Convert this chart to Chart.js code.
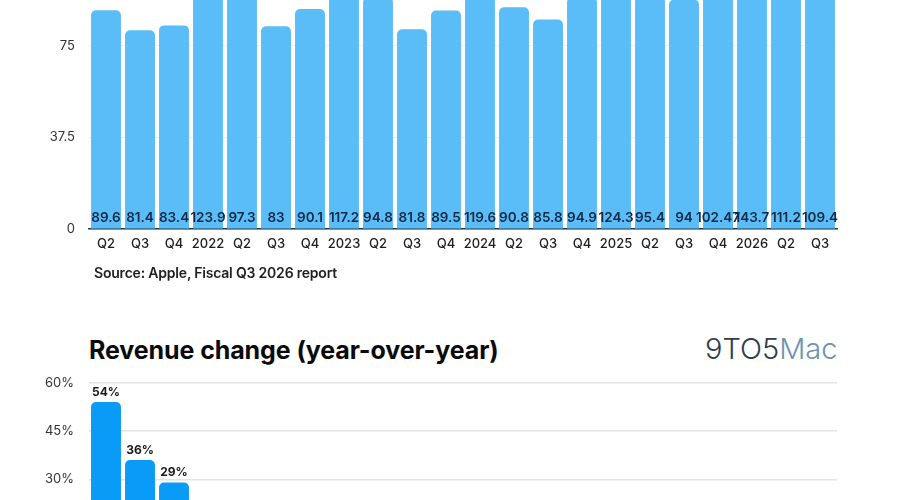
<!DOCTYPE html>
<html>
<head>
<meta charset="utf-8">
<script src="https://cdn.jsdelivr.net/npm/chart.js@4"></script>
<style>
html,body{margin:0;padding:0;width:900px;height:500px;overflow:hidden;background:#fff;font-family:Inter,"Noto Sans",sans-serif;}
#wrapTop{position:absolute;left:0;top:-159px;width:900px;height:428px;}
#wrapBot{position:absolute;left:0;top:360px;width:900px;height:271px;}
#source{position:absolute;left:94px;top:264px;font-size:14px;font-weight:600;color:#1e1e1e;letter-spacing:-0.2px;}
#title2{position:absolute;left:89px;top:335px;font-size:25px;font-weight:700;color:#0a0a0a;letter-spacing:-0.1px;}
#logo{position:absolute;left:705px;top:331px;font-size:29px;font-weight:300;letter-spacing:0px;}
#logo .d{color:#2e3d4b}
#logo .m{color:#6f93ad}
</style>
</head>
<body>
<div id="wrapTop"><canvas id="top"></canvas></div>
<div id="source">Source: Apple, Fiscal Q3 2026 report</div>
<div id="title2">Revenue change (year-over-year)</div>
<div id="logo"><span class="d">9TO5</span><span class="m">Mac</span></div>
<div id="wrapBot"><canvas id="bot"></canvas></div>
<script>
const categories = ["Q2","Q3","Q4","2022","Q2","Q3","Q4","2023","Q2","Q3","Q4","2024","Q2","Q3","Q4","2025","Q2","Q3","Q4","2026","Q2","Q3"];
const revenue = [89.6,81.4,83.4,123.9,97.3,83,90.1,117.2,94.8,81.8,89.5,119.6,90.8,85.8,94.9,124.3,95.4,94,102.47,143.7,111.2,109.4];
const revenueTicks = [0,37.5,75,112.5,150];
const yoyChange = [54,36,29,11,9,2,8,-5,-3,-1,-1,2,-4,5,6,4,5,10,8,16,17,16];
const yoyTicks = [0,15,30,45,60];

const TOP_BLUE = '#5bbdf8';
const BOT_BLUE = '#0a9bf6';

const insideBottomLabels = {
  id:'insideBottomLabels',
  afterDatasetsDraw(chart){
    const ctx = chart.ctx;
    const meta = chart.getDatasetMeta(0);
    ctx.save();
    ctx.font = '600 13.5px Inter, "Noto Sans", sans-serif';
    ctx.fillStyle = '#0e2a47';
    ctx.textAlign = 'center';
    ctx.textBaseline = 'middle';
    meta.data.forEach((bar,i)=>{
      ctx.fillText(String(revenue[i]), bar.x, bar.base - 11);
    });
    ctx.restore();
  }
};

const aboveLabels = {
  id:'aboveLabels',
  afterDatasetsDraw(chart){
    const ctx = chart.ctx;
    const meta = chart.getDatasetMeta(0);
    ctx.save();
    ctx.font = '700 12px Inter, "Noto Sans", sans-serif';
    ctx.fillStyle = '#1a1a1a';
    ctx.textAlign = 'center';
    ctx.textBaseline = 'bottom';
    meta.data.forEach((bar,i)=>{
      ctx.fillText(yoyChange[i] + '%', bar.x, bar.y - 4);
    });
    ctx.restore();
  }
};

new Chart(document.getElementById('top'), {
  type:'bar',
  data:{labels:categories, datasets:[{data:revenue, backgroundColor:TOP_BLUE, borderRadius:{topLeft:5,topRight:5,bottomLeft:0,bottomRight:0}, borderSkipped:'start', barPercentage:0.88, categoryPercentage:1}]},
  options:{
    responsive:true, maintainAspectRatio:false, animation:false,
    layout:{padding:{left:0,right:63,top:0,bottom:0}},
    plugins:{legend:{display:false}, tooltip:{enabled:false}},
    scales:{
      x:{
        grid:{display:false,drawTicks:false},
        border:{display:true,color:'#1f3a55',width:1.5},
        ticks:{color:'#1e1e1e',font:{family:'Inter, "Noto Sans", sans-serif',size:13,weight:'500'},padding:7,maxRotation:0,autoSkip:false},
        afterFit(s){s.height=40;}
      },
      y:{
        min:0,max:150,
        afterBuildTicks(s){s.ticks = revenueTicks.map(v=>({value:v}));},
        grid:{color:'#eceef0',lineWidth:1,drawTicks:false},
        border:{display:false},
        ticks:{color:'#333',font:{family:'Inter, "Noto Sans", sans-serif',size:13},padding:14,callback:v=>String(v)},
        afterFit(s){s.width=89;}
      }
    }
  },
  plugins:[insideBottomLabels]
});

new Chart(document.getElementById('bot'), {
  type:'bar',
  data:{labels:categories, datasets:[{data:yoyChange, backgroundColor:BOT_BLUE, borderRadius:{topLeft:5,topRight:5,bottomLeft:0,bottomRight:0}, borderSkipped:'start', barPercentage:0.88, categoryPercentage:1}]},
  options:{
    responsive:true, maintainAspectRatio:false, animation:false,
    layout:{padding:{left:0,right:63,top:0,bottom:0}},
    plugins:{legend:{display:false}, tooltip:{enabled:false}},
    scales:{
      x:{
        grid:{display:false,drawTicks:false},
        border:{display:false},
        ticks:{display:false},
        afterFit(s){s.height=55;}
      },
      y:{
        min:0,max:60,
        afterBuildTicks(s){s.ticks = yoyTicks.map(v=>({value:v}));},
        grid:{color:'#e2e4e6',lineWidth:1.5,drawTicks:false},
        border:{display:false},
        ticks:{color:'#333',font:{family:'Inter, "Noto Sans", sans-serif',size:13},padding:15,callback:v=>v+'%'},
        afterFit(s){s.width=89;}
      }
    }
  },
  plugins:[aboveLabels]
});
</script>
</body>
</html>
